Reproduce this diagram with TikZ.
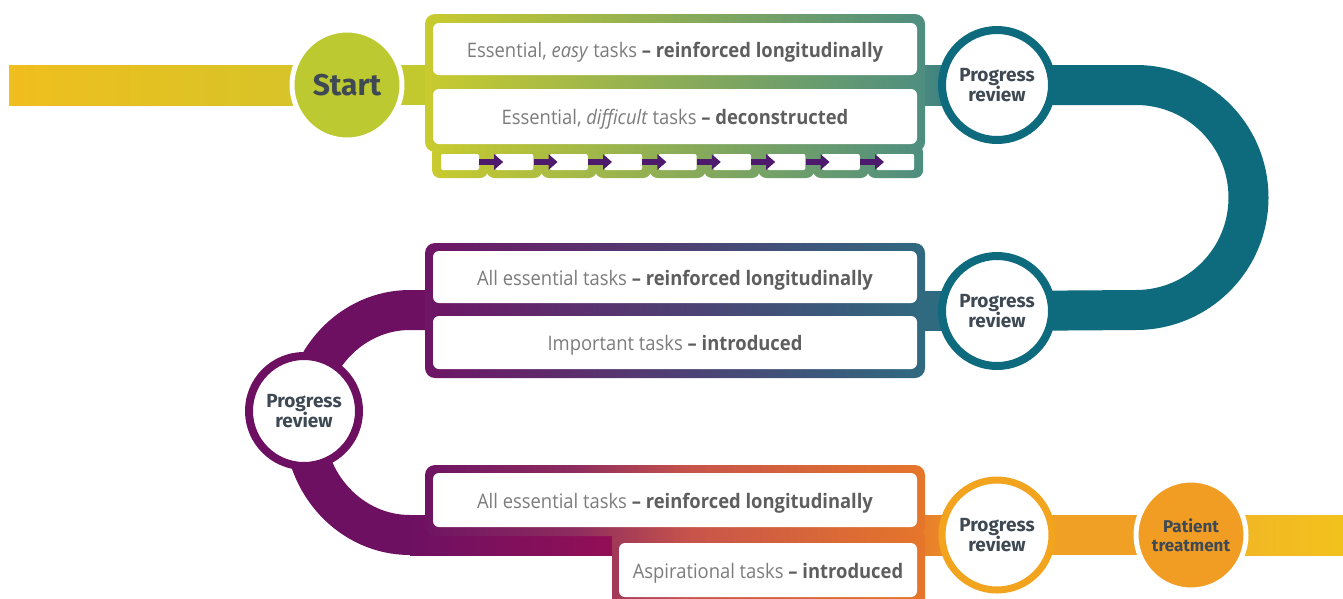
\documentclass[tikz,border=0pt]{standalone}
\usepackage{fontspec}
\setmainfont{Open Sans}
\newfontfamily\boxfont[FakeStretch=0.92]{Open Sans}
\newfontfamily\lblfont{Fira Sans}
\usetikzlibrary{arrows.meta,calc}
\definecolor{yelA}{HTML}{F0BE1E}
\definecolor{yelB}{HTML}{D2C52A}
\definecolor{limec}{HTML}{C2C92F}
\definecolor{startfill}{HTML}{BCC930}
\definecolor{topL}{HTML}{C9CB2E}
\definecolor{topR}{HTML}{4E8E80}
\definecolor{tbandL}{HTML}{4F8B80}
\definecolor{tbandR}{HTML}{1D6F7E}
\definecolor{tealc}{HTML}{0E6B7E}
\definecolor{midL}{HTML}{6E1565}
\definecolor{midR}{HTML}{2F6A80}
\definecolor{purp}{HTML}{6E1062}
\definecolor{magc}{HTML}{920F56}
\definecolor{botA}{HTML}{6F1463}
\definecolor{botB}{HTML}{8E2C5E}
\definecolor{botC}{HTML}{C9554A}
\definecolor{botD}{HTML}{E5762A}
\definecolor{orgA}{HTML}{E8812A}
\definecolor{orgB}{HTML}{F0A024}
\definecolor{orgring}{HTML}{F2A41E}
\definecolor{patfill}{HTML}{F19C22}
\definecolor{yelC}{HTML}{F1B12A}
\definecolor{yelD}{HTML}{F2C21C}
\definecolor{arrc}{HTML}{4E1A6E}
\definecolor{txtgray}{HTML}{7C7C7C}
\definecolor{txtbold}{HTML}{5E5E5E}
\definecolor{lbl}{HTML}{3E4954}
\pgfdeclarehorizontalshading{botframe}{100bp}{color(0bp)=(botA); color(25bp)=(botA); color(40bp)=(botB); color(52bp)=(botC); color(75bp)=(botD); color(100bp)=(botD)}
\pgfdeclarehorizontalshading{botband}{100bp}{color(0bp)=(purp); color(25bp)=(purp); color(42bp)=(magc); color(69bp)=(orgA); color(75bp)=(orgB); color(100bp)=(orgB)}
\pgfdeclarelayer{bg}
\pgfsetlayers{bg,main}
\tikzset{
 wbox/.style={rectangle, fill=white, rounded corners=6pt, inner sep=0pt, text=txtgray, font=\boxfont\fontsize{20}{23}\selectfont, text height=20pt, text depth=4pt},
 cellw/.style={rectangle, fill=white, rounded corners=2pt, inner sep=0pt, minimum width=38pt, minimum height=16pt},
 arr/.style={arrc, line width=5.5pt, -{Triangle[length=9pt,width=15pt]}},
 prc/.style={circle, fill=white, line width=8pt, minimum size=110pt, inner sep=0pt, align=center, text=lbl, font=\lblfont\bfseries\fontsize{19}{20.5}\selectfont},
 band/.style={line width=40pt},
}
\newcommand\bt[1]{\textcolor{txtbold}{\bfseries #1}}
\begin{document}
\begin{tikzpicture}[x=1pt,y=-1pt]
\useasboundingbox (0,0) rectangle (1343,598);
\clip (0,0) rectangle (1343,598);
% frames
\shade[left color=topL, right color=topR, rounded corners=10pt] (425,14) rectangle (925,152);
\shade[left color=topL, right color=topR, rounded corners=8pt] (432,145) rectangle (488,178) foreach \k in {1,...,8} {({432+54.4*\k},145) rectangle ({488+54.4*\k},178)};
\shade[left color=midL, right color=midR, rounded corners=10pt] (425,243) rectangle (925,378);
\shade[shading=botframe, rounded corners=10pt] (425,465) rectangle (925,536) (612,528) rectangle (925,612);
% white boxes
\node[wbox, minimum width=484pt, minimum height=52pt] (e1) at (675,49) {Essential, \textit{easy} tasks \bt{– reinforced longitudinally}};
\node[wbox, minimum width=484pt, minimum height=55pt] (e2) at (675,116.5) {Essential, \textit{difficult} tasks \bt{– deconstructed}};
\node[wbox, minimum width=484pt, minimum height=52pt] (m1) at (675,277) {All essential tasks \bt{– reinforced longitudinally}};
\node[wbox, minimum width=484pt, minimum height=53pt] (m2) at (675,342.5) {Important tasks \bt{– introduced}};
\node[wbox, minimum width=484pt, minimum height=54pt] (b1) at (675,500) {All essential tasks \bt{– reinforced longitudinally}};
\node[wbox, minimum width=298pt, minimum height=54pt] (b2) at (768,570) {Aspirational tasks \bt{– introduced}};
% cells and arrows
\foreach \k in {0,...,8} \node[cellw] (c\k) at ({460+54.4*\k},162) {};
\foreach \k in {0,...,7} {\pgfmathtruncatemacro\n{\k+1}\draw[arr] (c\k.east) -- ($(c\n.west)+(8,0)$);}
% circles
\node[circle, fill=startfill, draw=white, line width=5pt, minimum size=110pt, inner sep=0pt, text=lbl, font=\lblfont\bfseries\fontsize{30}{32}\selectfont] (start) at (347,85) {Start};
\node[prc, draw=tealc] (pr1) at (997,85) {Progress\\review};
\node[prc, draw=tealc] (pr2) at (997,311) {Progress\\review};
\node[prc, draw=purp] (pr3) at (304,411) {Progress\\review};
\node[prc, draw=orgring, line width=7pt] (pr4) at (997,535) {Progress\\review};
\node[circle, fill=patfill, draw=white, line width=5pt, minimum size=110pt, inner sep=0pt, align=center, text=lbl, font=\lblfont\bfseries\fontsize{17}{19}\selectfont] (pt) at (1191,535) {Patient\\treatment};
% bands
\begin{pgfonlayer}{bg}
\shade[left color=yelA, right color=yelB] (9,65) rectangle ($(start.center)+(0,20)$);
\fill[limec] ($(start.center)+(0,-20)$) rectangle (430,105);
\shade[left color=tbandL, right color=tbandR] (915,65) rectangle ($(pr1.center)+(0,20)$);
\draw[band, tealc] (pr1.center) -- (1136,85) arc[start angle=-90, end angle=90, radius=112.5] -- (pr2.center);
\fill[midR] (915,291) rectangle ($(pr2.center)+(0,20)$);
\draw[band, purp] (440,310) -- (410,310) arc[start angle=-90, end angle=-270, x radius=106, y radius=112.5] -- (440,535);
\shade[shading=botband] (410,515) rectangle ($(pr4.center)+(0,20)$);
\fill[orgB] ($(pr4.center)+(0,-20)$) rectangle ($(pt.center)+(0,20)$);
\shade[left color=yelC, right color=yelD] ($(pt.center)+(0,-20)$) rectangle (1343,555);
\end{pgfonlayer}
\end{tikzpicture}
\end{document}
